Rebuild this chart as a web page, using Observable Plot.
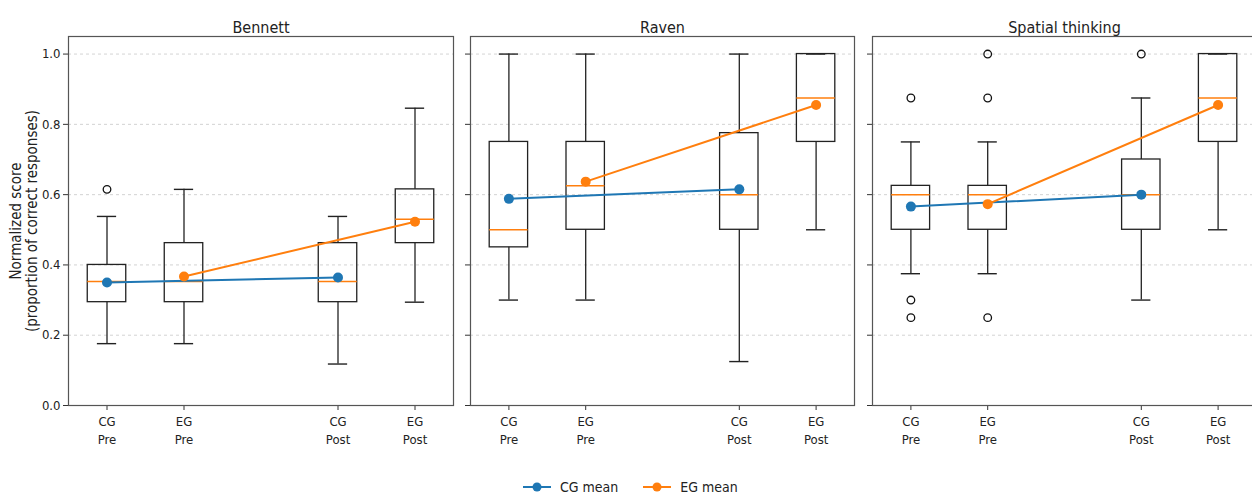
<!DOCTYPE html>
<html>
<head>
<meta charset="utf-8">
<script src="https://cdn.jsdelivr.net/npm/d3@7"></script>
<script src="https://cdn.jsdelivr.net/npm/@observablehq/plot@0.6"></script>
<style>
  html, body { margin: 0; padding: 0; background: #fff; overflow: hidden; }
  body { font-family: "DejaVu Sans Condensed", "DejaVu Sans", sans-serif; }
  #wrap { position: relative; width: 1252px; height: 495px; overflow: hidden; }
  .panel { position: absolute; top: 0; }
  #legend { position: absolute; top: 479px; left: 523px; display: flex; align-items: center; font-size: 14px; color: #222; }
  #legend .item { display: flex; align-items: center; margin-right: 25px; }
  #legend svg { margin-right: 9px; }
</style>
</head>
<body>
<div id="wrap"><div id="legend"></div></div>
<script>
// ---- data ----
const tests = ["Bennett", "Raven", "Spatial thinking"];
const groups = ["CG\nPre", "EG\nPre", "CG\nPost", "EG\nPost"];
const yTicks = [0, 0.2, 0.4, 0.6, 0.8, 1.0];

// per test: [CG Pre, EG Pre, CG Post, EG Post]
const whiskerLow = [[0.176, 0.176, 0.118, 0.294], [0.30, 0.30, 0.125, 0.50], [0.375, 0.375, 0.30, 0.50]];
const quart1     = [[0.294, 0.294, 0.294, 0.462], [0.45, 0.50, 0.50, 0.75], [0.50, 0.50, 0.50, 0.75]];
const medians    = [[0.353, 0.353, 0.353, 0.530], [0.50, 0.625, 0.60, 0.875], [0.60, 0.60, 0.60, 0.875]];
const quart3     = [[0.40, 0.462, 0.462, 0.615], [0.75, 0.75, 0.775, 1.0], [0.625, 0.625, 0.70, 1.0]];
const whiskerHigh= [[0.538, 0.615, 0.538, 0.846], [1.0, 1.0, 1.0, 1.0], [0.75, 0.75, 0.875, 1.0]];
const outliers   = [[[0.615], [], [], []], [[], [], [], []], [[0.875, 0.30, 0.25], [1.0, 0.875, 0.25], [1.0], []]];
const means      = [[0.350, 0.367, 0.364, 0.523], [0.588, 0.637, 0.615, 0.855], [0.566, 0.573, 0.600, 0.855]];
const meanSeries = ["CG mean", "EG mean"];
const seriesColors = ["#1f77b4", "#ff7f0e"];

// ---- layout ----
const FONT = "DejaVu Sans Condensed, DejaVu Sans, sans-serif";
const xpos = i => i + 1 + (i >= 2 ? 1 : 0); // gap between Pre and Post
const panelLeft = [0, 460, 860];
const panelWidth = [460, 400, 400];
const mLeft = [68, 10, 12];
const mRight = [7, 6, 4];

const wrap = document.getElementById("wrap");

tests.forEach((test, t) => {
  const rows = groups.map((g, i) => ({
    pos: xpos(i), lo: whiskerLow[t][i], q1: quart1[t][i], med: medians[t][i], q3: quart3[t][i], hi: whiskerHigh[t][i]
  }));
  const outRows = groups.flatMap((g, i) => outliers[t][i].map(v => ({pos: xpos(i), v})));
  const meanRows = groups.map((g, i) => ({pos: xpos(i), m: means[t][i], series: meanSeries[g.startsWith("CG") ? 0 : 1]}));
  const positions = groups.map((g, i) => xpos(i));
  const ink = "#222";

  const marks = [
    Plot.gridY(yTicks.filter(d => d > 0), {stroke: "#c8c8c8", strokeOpacity: 1, strokeDasharray: "3,3", strokeWidth: 0.8}),
    Plot.axisY(yTicks, {tickSize: 5, tickPadding: 3, tickFormat: t === 0 ? d3.format(".1f") : () => "", label: null, fontSize: 13, stroke: "#333"}),
    Plot.axisX(positions, {tickSize: 5, tickPadding: 3, tickFormat: d => groups[positions.indexOf(d)], label: null, fontSize: 13, lineHeight: 1.35, stroke: "#333"}),
    Plot.ruleX(rows, {x: "pos", y1: "lo", y2: "q1", stroke: ink, strokeWidth: 1.3}),
    Plot.ruleX(rows, {x: "pos", y1: "q3", y2: "hi", stroke: ink, strokeWidth: 1.3}),
    Plot.ruleY(rows, {y: "lo", x1: d => d.pos - 0.125, x2: d => d.pos + 0.125, stroke: ink, strokeWidth: 1.4}),
    Plot.ruleY(rows, {y: "hi", x1: d => d.pos - 0.125, x2: d => d.pos + 0.125, stroke: ink, strokeWidth: 1.4}),
    Plot.rect(rows, {x1: d => d.pos - 0.25, x2: d => d.pos + 0.25, y1: "q1", y2: "q3", fill: "none", stroke: ink, strokeWidth: 1.3}),
    Plot.ruleY(rows, {y: "med", x1: d => d.pos - 0.25, x2: d => d.pos + 0.25, stroke: "#ff7f0e", strokeWidth: 1.5}),
    Plot.dot(outRows, {x: "pos", y: "v", r: 3.8, stroke: "#111", fill: "none", strokeWidth: 1.3}),
    Plot.line(meanRows, {x: "pos", y: "m", z: "series", stroke: d => seriesColors[meanSeries.indexOf(d.series)], strokeWidth: 2}),
    Plot.dot(meanRows, {x: "pos", y: "m", r: 5, fill: d => seriesColors[meanSeries.indexOf(d.series)], stroke: "none"}),
    Plot.frame({stroke: "#555", strokeWidth: 1.2}),
    Plot.text([test], {text: d => d, frameAnchor: "top", dy: -15, fontSize: 16, fill: "#222"})
  ];
  if (t === 0) {
    marks.push(Plot.text(["Normalized score\n(proportion of correct responses)"], {
      text: d => d, frameAnchor: "left", dx: -45, rotate: -90, textAnchor: "middle", lineAnchor: "middle",
      fontSize: 15, lineHeight: 1.1, fill: "#222"
    }));
  }

  const svg = Plot.plot({
    width: panelWidth[t], height: 460,
    marginLeft: mLeft[t], marginRight: mRight[t], marginTop: 36, marginBottom: 55,
    x: {domain: [0.5, 5.5]},
    y: {domain: [0, 1.05]},
    style: {fontFamily: FONT, fontSize: "13px", color: "#222", background: "transparent", overflow: "visible"},
    marks
  });
  svg.classList.add("panel");
  svg.style.left = panelLeft[t] + "px";
  wrap.appendChild(svg);
});

// legend
const legend = document.getElementById("legend");
meanSeries.forEach((name, k) => {
  const item = document.createElement("div");
  item.className = "item";
  item.innerHTML = `<svg width="28" height="14"><line x1="0" x2="28" y1="7" y2="7" stroke="${seriesColors[k]}" stroke-width="2"/><circle cx="14" cy="7" r="4.5" fill="${seriesColors[k]}"/></svg><span>${name}</span>`;
  legend.appendChild(item);
});
</script>
</body>
</html>
